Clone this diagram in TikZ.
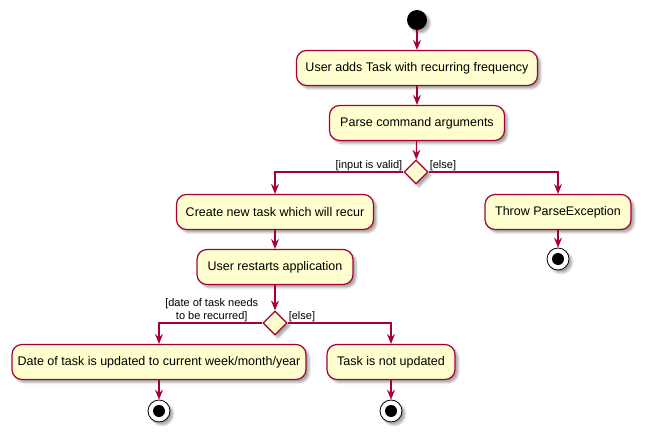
\documentclass[tikz,border=0pt]{standalone}
\usepackage{fontspec}
\setmainfont{Liberation Sans}
\usepackage{tikz}
\usetikzlibrary{positioning,shapes.geometric,arrows.meta,shadows.blur}
\definecolor{umlred}{HTML}{A80036}
\definecolor{umlfill}{HTML}{FEFECE}

\begin{document}
\begin{tikzpicture}[x = 1pt, y = -1pt,
	umlshadow/.style = {blur shadow = {shadow xshift = 3pt, shadow yshift = -3pt, shadow blur steps = 4, shadow opacity = 35}},
	action/.style = {draw = umlred, fill = umlfill, line width = 1.2pt, rounded corners = 10pt, minimum height = 35pt, inner xsep = 0pt, font = \fontsize{12.5}{15}\selectfont, umlshadow},
	choice/.style = {diamond, draw = umlred, fill = umlfill, line width = 1.2pt, minimum width = 24pt, minimum height = 24pt, inner sep = 0pt, umlshadow},
	stopnode/.style = {circle, draw = black, fill = white, line width = .8pt, minimum size = 22pt, inner sep = 0pt, umlshadow, path picture = {\fill [black] (path picture bounding box.center) circle (6pt);}},
	flow/.style = {draw = umlred, line width = 1.2pt, -{Stealth[length = 10pt, width = 8pt, inset = 3.5pt]}},
	guard/.style = {inner sep = 1pt, font = \fontsize{11}{13.5}\selectfont}
]
\useasboundingbox (0,0) rectangle (647,438);

%%%%%%%%%%%%%%% parse %%%%%%%%%%%%%%%%
\node [circle, fill = black, minimum size = 20pt, inner sep = 0pt, umlshadow] (start) at (417,20) {};
\node [action, minimum width = 241pt] (adds) at (417,68) {User adds Task with recurring frequency};
\node [action, minimum width = 175pt] (parse) at (417,123) {Parse command arguments};
\node [choice] (valid) at (416,172) {};
\node [guard, anchor = south east] (validlabel) at (valid.west) {[input is valid]};
\node [guard, anchor = south west] (elselabel) at (valid.east) {[else]};

%%%%%%%%%%%%%%% invalid %%%%%%%%%%%%%%%%
\node [action, minimum width = 146pt] (throw) at (558,212) {Throw ParseException};
\node [stopnode] (stopthrow) at (558,259) {};

%%%%%%%%%%%%%%% valid %%%%%%%%%%%%%%%%
\node [action, minimum width = 197pt] (create) at (275,212) {Create new task which will recur};
\node [action, minimum width = 156pt] (restart) at (275,267) {User restarts application};
\node [choice] (recur) at (275,323) {};
\node [guard, anchor = south east, align = center, xshift = -3pt] (recurlabel) at (recur.west) {[date of task needs\\to be recurred]};
\node [guard, anchor = south west] (recurelse) at (recur.east) {[else]};
\node [action, minimum width = 294pt] (update) at (159,362) {Date of task is updated to current week/month/year};
\node [stopnode] (stopupdate) at (159,411) {};
\node [action, minimum width = 128pt] (keep) at (391,362) {Task is not updated};
\node [stopnode] (stopkeep) at (391,411) {};

%%%%%%%%%%%%%%% arrows %%%%%%%%%%%%%%%%
\draw [flow] (start) -- (adds);
\draw [flow] (adds) -- (parse);
\draw [flow] (parse) -- (valid);
\draw [flow] (valid.west) -| (create);
\draw [flow] (valid.east) -| (throw);
\draw [flow] (throw) -- (stopthrow);
\draw [flow] (create) -- (restart);
\draw [flow] (restart) -- (recur);
\draw [flow] (recur.west) -| (update);
\draw [flow] (recur.east) -| (keep);
\draw [flow] (update) -- (stopupdate);
\draw [flow] (keep) -- (stopkeep);

\end{tikzpicture}
\end{document}
